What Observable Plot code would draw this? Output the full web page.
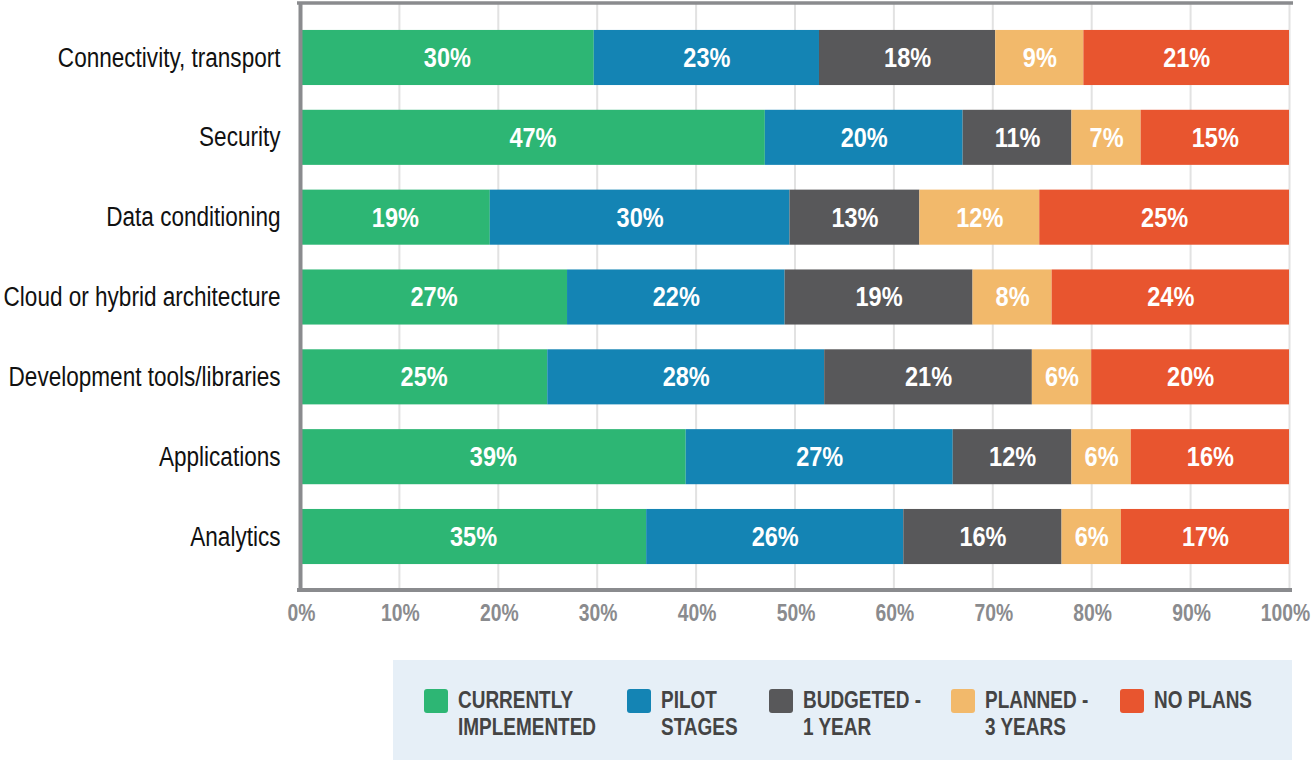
<!DOCTYPE html>
<html>
<head>
<meta charset="utf-8">
<script src="https://cdn.jsdelivr.net/npm/d3@7"></script>
<script src="https://cdn.jsdelivr.net/npm/@observablehq/plot@0.6"></script>
<style>
  html, body { margin: 0; padding: 0; background: #fff; }
  body { font-family: "Liberation Sans", Arial, sans-serif; }
  #chart svg { display: block; }
  #legend {
    margin: 20px 0 0 393px; width: 899px; height: 100px; background: #e6eff7;
    box-sizing: border-box; padding: 26px 0 0 31px; display: flex; gap: 31px;
  }
  .item { display: flex; align-items: flex-start; }
  .sw { width: 24px; height: 24px; border-radius: 3px; margin: 3px 10px 0 0; flex: none; }
  .lab { font-weight: bold; font-size: 24px; line-height: 27px; color: #444; text-transform: uppercase;
         white-space: nowrap; transform-origin: 0 0; }
</style>
</head>
<body>
<div id="chart"></div>
<div id="legend"></div>
<script>
const categories = ["Connectivity, transport", "Security", "Data conditioning", "Cloud or hybrid architecture", "Development tools/libraries", "Applications", "Analytics"];
const seriesNames = ["Currently implemented", "Pilot stages", "Budgeted - 1 year", "Planned - 3 years", "No plans"];
const legendLines = [["Currently", "implemented"], ["Pilot", "stages"], ["Budgeted -", "1 year"], ["Planned -", "3 years"], ["No plans"]];
const currentlyImplemented = [30, 47, 19, 27, 25, 39, 35];
const pilotStages = [23, 20, 30, 22, 28, 27, 26];
const budgeted1Year = [18, 11, 13, 19, 21, 12, 16];
const planned3Years = [9, 7, 12, 8, 6, 6, 6];
const noPlans = [21, 15, 25, 24, 20, 16, 17];
const colors = ["#2db674", "#1484b4", "#58585a", "#f2b96b", "#e8552f"];
const xTicks = [0, 0.1, 0.2, 0.3, 0.4, 0.5, 0.6, 0.7, 0.8, 0.9, 1];

const seriesValues = [currentlyImplemented, pilotStages, budgeted1Year, planned3Years, noPlans];
const data = [];
categories.forEach((cat, i) => {
  seriesNames.forEach((s, j) => data.push({cat, series: s, value: seriesValues[j][i]}));
});

const font = '"Liberation Sans", Arial, sans-serif';
const W = 1315, H = 640, mT = 4, mB = 50, mL = 300, mR = 26;

const plot = Plot.plot({
  width: W, height: H,
  marginLeft: mL, marginRight: mR, marginTop: mT, marginBottom: mB,
  style: {fontFamily: font, background: "white"},
  x: {domain: [0, 1], axis: null},
  y: {domain: categories, paddingInner: 0.31, paddingOuter: 0.325, round: false, axis: null},
  color: {domain: seriesNames, range: colors},
  marks: [
    Plot.gridX(xTicks.slice(1), {stroke: "#e2e2e2", strokeOpacity: 1, strokeWidth: 2}),
    Plot.barX(data, Plot.stackX({x: "value", y: "cat", fill: "series", z: "series", offset: "normalize"})),
    Plot.text(data, Plot.stackX({x: "value", y: "cat", z: "series", offset: "normalize",
      text: d => d.value + "%", fill: "white", fontWeight: "bold", fontSize: 28})),
    Plot.axisY({tickSize: 0, tickPadding: 20, fontSize: 27, fill: "#111", label: null}),
    Plot.axisX({ticks: xTicks, tickSize: 0, tickPadding: 14, fontSize: 23, fontWeight: "bold", dx: 1,
      fill: "#8a8b8e", label: null, tickFormat: d => Math.round(d * 100) + "%"}),
    Plot.ruleX([0], {stroke: "#8a8b8e", strokeWidth: 4})
  ]
});
document.getElementById("chart").appendChild(plot);

// frame lines (top and bottom) using the plot's x scale
const xs = plot.scale("x");
const x0 = xs.apply(0), x1 = xs.apply(1);
const svg = d3.select(plot);
svg.append("line").attr("x1", x0 - 3).attr("x2", x1 + 4).attr("y1", mT - 1).attr("y2", mT - 1)
  .attr("stroke", "#8a8b8e").attr("stroke-width", 3.5);
svg.append("line").attr("x1", x0 - 3).attr("x2", x1 + 3).attr("y1", H - mB).attr("y2", H - mB)
  .attr("stroke", "#8a8b8e").attr("stroke-width", 4);

// condensed look: compress glyphs horizontally
function condense(sel, r) {
  sel.each(function() {
    const len = this.getComputedTextLength();
    this.setAttribute("textLength", (len * r).toFixed(2));
    this.setAttribute("lengthAdjust", "spacingAndGlyphs");
  });
}
condense(svg.selectAll("g[aria-label='text'] text"), 0.84);
condense(svg.selectAll("g[aria-label='y-axis tick label'] text"), 0.835);
condense(svg.selectAll("g[aria-label='x-axis tick label'] text"), 0.84);
// keep the last tick label ("100%") inside the picture, as in the reference
const xLabels = svg.selectAll("g[aria-label='x-axis tick label'] text").nodes();
if (xLabels.length) {
  const last = xLabels[xLabels.length - 1];
  last.setAttribute("text-anchor", "end");
  last.setAttribute("dx", (last.getComputedTextLength() / 2 - 5).toFixed(1));
}

// legend
const legend = d3.select("#legend");
seriesNames.forEach((s, i) => {
  const it = legend.append("div").attr("class", "item");
  it.append("div").attr("class", "sw").style("background", colors[i]);
  it.append("div").attr("class", "lab").html(legendLines[i].join("<br>"));
});
const r = 0.79;
legend.selectAll(".lab").each(function() {
  const w = this.getBoundingClientRect().width;
  this.style.transform = `scaleX(${r})`;
  this.style.marginRight = (-(w * (1 - r))).toFixed(1) + "px";
});
</script>
</body>
</html>
